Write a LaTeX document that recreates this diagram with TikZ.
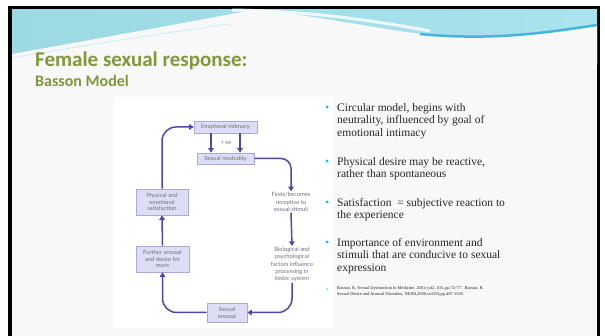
\documentclass[tikz,border=0pt]{standalone}
\usepackage{fontspec}
\setmainfont{Liberation Serif}
\setsansfont{Lato}
\newfontfamily\titlefont{Carlito}
\usetikzlibrary{positioning,arrows.meta,calc}

\definecolor{titlegreen}{HTML}{7E983A}
\definecolor{wavecyan}{HTML}{86D6E6}
\definecolor{wavedeep}{HTML}{45B4DC}
\definecolor{slidebg}{HTML}{F8F8F9}
\definecolor{boxfill}{HTML}{DDDDF5}
\definecolor{boxline}{HTML}{A9A9DC}
\definecolor{boxtext}{HTML}{6E6E80}
\definecolor{flowcol}{HTML}{5246A6}
\definecolor{bulletcol}{HTML}{1EC3D3}

\tikzset{
  stagebox/.style={draw=boxline, fill=boxfill, line width=.6pt, text=boxtext,
    font=\sffamily\fontsize{5.8}{6.8}\selectfont, align=center, inner sep=1pt},
  stagetext/.style={text=boxtext, font=\sffamily\fontsize{5.8}{7.4}\selectfont,
    align=center, inner sep=1pt},
  flow/.style={draw=flowcol, line width=1.5pt, rounded corners=10pt,
    -{Triangle[length=4.5pt,width=5.5pt]}},
  dot/.style={circle, fill=bulletcol, inner sep=0pt, minimum size=3.2pt},
  point/.style={anchor=north west, inner sep=0pt, align=left, text=black!85,
    font=\fontsize{11.5}{12.5}\selectfont}
}

\begin{document}
\begin{tikzpicture}[x=1pt,y=-1pt]
\useasboundingbox (0,0) rectangle (605,336);
% frame and slide
\fill[white] (0,0) rectangle (605,336);
\fill[black] (8,6) rectangle (600,336);
\fill[slidebg] (12,10) rectangle (597,336);
% wave band on top
\shade[left color=wavecyan!85!teal!70, right color=wavecyan!70] (12,10) rectangle (597,64);
\draw[white, line width=3pt, opacity=.8] (232,10) .. controls (300,11) and (360,18) .. (430,31);
\fill[slidebg] (12,54) .. controls (90,40) and (190,22) .. (252,10) -- (262,10)
  .. controls (360,22) and (410,37) .. (470,37) .. controls (525,37) and (565,30) .. (597,25)
  -- (597,66) -- (12,66) -- cycle;
\draw[wavedeep, line width=2.5pt] (420,34) .. controls (450,37) and (480,37) .. (500,36)
  .. controls (540,34) and (570,29) .. (597,25);
\draw[wavecyan!60, line width=.8pt, dash pattern=on 2pt off 1pt] (12,58) .. controls (80,46) and (150,35) .. (230,24);

% title
\node[anchor=base west, inner sep=0pt, text=titlegreen,
  font=\titlefont\bfseries\fontsize{21}{21}\selectfont] (title) at (35,67) {Female sexual response:};
\node[anchor=base west, inner sep=0pt, text=titlegreen,
  font=\titlefont\bfseries\fontsize{16}{16}\selectfont] (subtitle) at (35,87) {Basson Model};

% the model
\fill[white] (113,97) rectangle (333,328);
\node[stagebox, minimum width=63pt, minimum height=12pt] (emo) at (225.5,127) {Emotional intimacy};
\node[stagebox, minimum width=57pt, minimum height=11pt] (neu) at (225.5,158.5) {Sexual neutrality};
\node[stagetext] (finds) at (291,202) {Finds/becomes\\receptive to\\sexual stimuli};
\node[stagetext] (bio) at (292,264.5) {Biological and\\psychological\\factors influence\\processing in\\limbic system};
\node[stagebox, minimum width=40pt, minimum height=19pt] (aro) at (227,312.5) {Sexual\\arousal};
\node[stagebox, minimum width=53pt, minimum height=26pt] (fur) at (162.5,259) {Further arousal\\and desire for\\more};
\node[stagebox, minimum width=52pt, minimum height=26pt] (phy) at (162,202) {Physical and\\emotional\\satisfaction};
\node[stagetext] (ve) at (226,143) {+ ve};

\draw[flow] ([xshift=-14.5pt]emo.south) -- ([xshift=-14.5pt]neu.north);
\draw[flow] ([xshift=14.5pt]emo.south) -- ([xshift=14.5pt]neu.north);
\draw[flow] (neu.east) -| (finds.north);
\draw[flow] (finds.south) -- (bio.north);
\draw[flow, rounded corners=14pt] (bio.south) |- (aro.east);
\draw[flow, rounded corners=14pt] (aro.west) -| (fur.south);
\draw[flow] (fur.north) -- (phy.south);
\draw[flow, rounded corners=14pt] (phy.north) |- (emo.west);

% bullet points
\node[dot] (d1) at (327,107) {};
\node[point] (p1) at (337,103) {Circular model, begins with\\neutrality, influenced by goal of\\emotional intimacy};
\node[dot] (d2) at (327,161) {};
\node[point] (p2) at (337,157) {Physical desire may be reactive,\\rather than spontaneous};
\node[dot] (d3) at (327,202) {};
\node[point] (p3) at (337,198) {Satisfaction \ = subjective reaction to\\the experience};
\node[dot] (d4) at (327,242) {};
\node[point] (p4) at (337,238) {Importance of environment and\\stimuli that are conducive to sexual\\expression};
\node[dot, minimum size=1.5pt] (d5) at (327,289) {};
\node[point, font=\fontsize{4.4}{5.5}\selectfont] (refs) at (337,286.5)
  {Basson, R, Sexual Dysfunction in Medicine, 2001,vol2, 103.,pp.72-77. \ Basson, R,\\Sexual Desire and Arousal Disorders, NEJM,2006;vol354,pp.497-1505.};
\end{tikzpicture}
\end{document}
